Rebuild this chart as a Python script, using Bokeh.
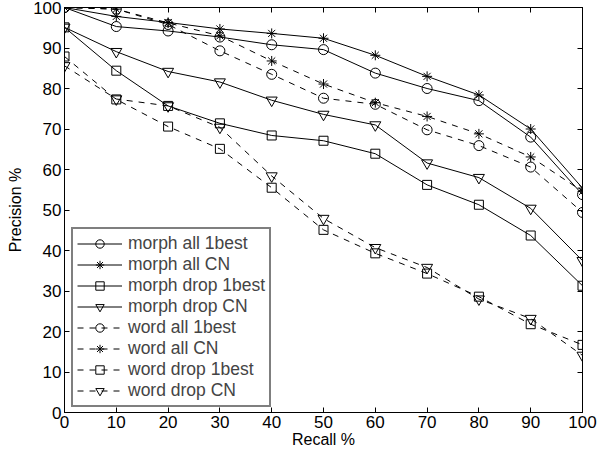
from bokeh.plotting import figure
from bokeh.models import Range1d, LinearAxis, FixedTicker, Legend, LegendItem
from bokeh.embed import file_html
from bokeh.resources import INLINE

recall = [0, 10, 20, 30, 40, 50, 60, 70, 80, 90, 100]
morph_all_1best = [100, 95.3, 94.2, 92.7, 90.8, 89.6, 83.8, 80.0, 77.0, 68.0, 53.8]
morph_all_cn = [100, 97.8, 96.3, 94.7, 93.6, 92.4, 88.2, 83.0, 78.4, 70.0, 55.4]
morph_drop_1best = [95.1, 84.4, 75.7, 71.4, 68.4, 67.1, 63.9, 56.2, 51.3, 43.7, 31.3]
morph_drop_cn = [95.1, 89.1, 84.2, 81.6, 77.1, 73.6, 71.0, 61.6, 58.0, 50.4, 37.5]
word_all_1best = [100, 99.6, 95.8, 89.3, 83.5, 77.6, 76.1, 69.8, 65.9, 60.6, 49.4]
word_all_cn = [100, 99.6, 96.2, 93.0, 86.8, 81.1, 76.5, 73.1, 68.8, 63.1, 54.6]
word_drop_1best = [87.9, 77.3, 70.6, 65.1, 55.5, 45.1, 39.3, 34.3, 28.6, 21.8, 16.7]
word_drop_cn = [85.6, 77.4, 75.7, 70.4, 58.4, 47.9, 40.7, 35.8, 28.0, 23.2, 14.1]

series = [
    ("morph all 1best", morph_all_1best, "circle", "solid"),
    ("morph all CN", morph_all_cn, "asterisk", "solid"),
    ("morph drop 1best", morph_drop_1best, "square", "solid"),
    ("morph drop CN", morph_drop_cn, "inverted_triangle", "solid"),
    ("word all 1best", word_all_1best, "circle", "dashed"),
    ("word all CN", word_all_cn, "asterisk", "dashed"),
    ("word drop 1best", word_drop_1best, "square", "dashed"),
    ("word drop CN", word_drop_cn, "inverted_triangle", "dashed"),
]
marker_size = {"circle": 10, "asterisk": 10, "square": 9, "inverted_triangle": 11}
ticks = [0, 10, 20, 30, 40, 50, 60, 70, 80, 90, 100]

FONT = "Liberation Sans"

p = figure(width=598, height=450, output_backend="svg", toolbar_location=None,
           x_range=Range1d(0, 100), y_range=Range1d(0, 100),
           min_border_left=64, min_border_right=16, min_border_top=7, min_border_bottom=0)
p.grid.visible = False
p.outline_line_color = "black"
p.outline_line_width = 1
p.background_fill_color = "white"
p.border_fill_color = "white"

for ax in (p.xaxis[0], p.yaxis[0]):
    ax.ticker = FixedTicker(ticks=ticks)
    ax.major_tick_in = 5
    ax.major_tick_out = 0
    ax.minor_tick_in = 0
    ax.minor_tick_out = 0
    ax.axis_line_color = "black"
    ax.major_tick_line_color = "black"
    ax.major_label_text_font = FONT
    ax.major_label_text_font_size = "17px"
    ax.major_label_text_color = "black"
    ax.axis_label_text_font = FONT
    ax.axis_label_text_font_style = "normal"
    ax.axis_label_text_color = "black"

p.xaxis.axis_label = "Recall %"
p.yaxis.axis_label = "Precision %"
p.xaxis.axis_label_text_font_size = "16px"
p.yaxis.axis_label_text_font_size = "16px"
p.xaxis.major_label_standoff = 3
p.xaxis.axis_label_standoff = 0
p.yaxis.major_label_standoff = 3
p.yaxis.axis_label_standoff = 6

blank = {t: "" for t in ticks}
for loc in ("above", "right"):
    a = LinearAxis(ticker=FixedTicker(ticks=ticks), major_tick_in=5, major_tick_out=0,
                   minor_tick_in=0, minor_tick_out=0, major_label_overrides=blank,
                   major_label_standoff=0, axis_line_color="black")
    p.add_layout(a, loc)

items = []
for name, vals, marker, dash in series:
    r = p.line(recall, vals, line_color="black", line_width=1, line_dash=dash)
    m = p.scatter(recall, vals, marker=marker, size=marker_size[marker], line_color="black",
                  fill_color=None, line_width=1)
    items.append(LegendItem(label=name, renderers=[r, m]))

legend = Legend(items=items, location=(7, 5), margin=0,
                label_text_font=FONT, label_text_font_size="17.5px",
                glyph_width=45, glyph_height=21, label_height=21, label_standoff=6,
                spacing=0, padding=4, border_line_color="black", border_line_width=2,
                background_fill_color="white", background_fill_alpha=1)
p.add_layout(legend, "center")

open("out.html", "w").write(file_html(p, INLINE))
